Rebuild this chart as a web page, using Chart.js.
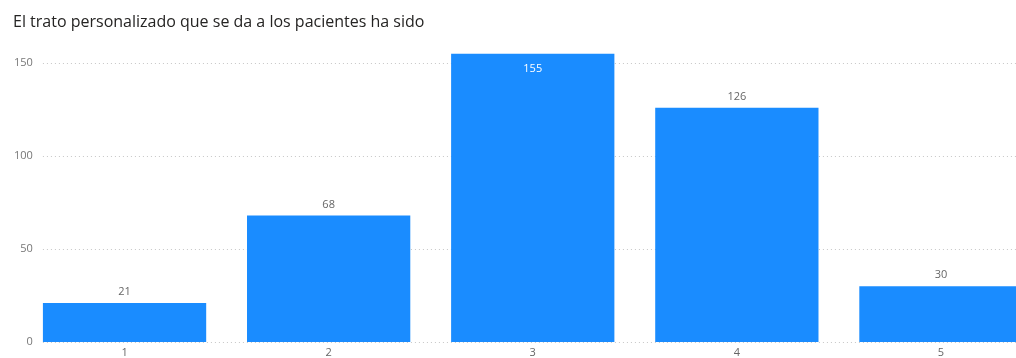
<!DOCTYPE html>
<html lang="es">
<head>
  <meta charset="UTF-8">
  <title>Trato personalizado</title>
  <style>
    body {
      margin: 0;
      background: #fff;
      overflow: hidden;
    }
    .wrap {
      width: 1043px;
      height: 358px;
    }
  </style>
  <script src="https://cdn.jsdelivr.net/npm/chart.js"></script>
</head>
<body>
  <div class="wrap">
    <canvas id="ratingChart" width="1043" height="358"></canvas>
  </div>
  <script>
    const categories = ['1', '2', '3', '4', '5'];
    const counts = [21, 68, 155, 126, 30];
    const yTicks = [0, 50, 100, 150];

    const barColor = '#1a8cff';
    const labelFont = '11px "Open Sans", sans-serif';

    // dotted horizontal guides, starting at the left edge of the first bar,
    // plus the y tick labels (drawn here so they can sit past the axis box)
    const dottedGrid = {
      id: 'dottedGrid',
      beforeDatasetsDraw(chart) {
        const { ctx, chartArea, scales } = chart;
        const first = chart.getDatasetMeta(0).data[0];
        const left = first.x - first.width / 2;
        ctx.save();
        ctx.strokeStyle = '#c6c6c6';
        ctx.lineWidth = 1;
        ctx.setLineDash([1, 3]);
        scales.y.ticks.forEach(t => {
          const py = Math.round(scales.y.getPixelForValue(t.value)) + 0.5;
          ctx.beginPath();
          ctx.moveTo(left, py);
          ctx.lineTo(chartArea.right, py);
          ctx.stroke();
        });
        ctx.setLineDash([]);
        ctx.font = labelFont;
        ctx.fillStyle = '#777777';
        ctx.textAlign = 'right';
        ctx.textBaseline = 'middle';
        scales.y.ticks.forEach(t => {
          ctx.fillText(String(t.value), left - 10, scales.y.getPixelForValue(t.value));
        });
        ctx.restore();
      }
    };

    // value labels: above the bar, or inside it when there is no room on top
    const valueLabels = {
      id: 'valueLabels',
      afterDatasetsDraw(chart) {
        const { ctx, chartArea } = chart;
        const meta = chart.getDatasetMeta(0);
        ctx.save();
        ctx.font = labelFont;
        ctx.textAlign = 'center';
        ctx.textBaseline = 'middle';
        meta.data.forEach((bar, i) => {
          const inside = bar.y - 20 < chartArea.top;
          ctx.fillStyle = inside ? '#ffffff' : '#666666';
          ctx.fillText(String(counts[i]), bar.x, inside ? bar.y + 15 : bar.y - 11);
        });
        ctx.restore();
      }
    };

    new Chart(document.getElementById('ratingChart'), {
      type: 'bar',
      data: {
        labels: categories,
        datasets: [{
          data: counts,
          backgroundColor: barColor,
          borderWidth: 0,
          barPercentage: 0.8,
          categoryPercentage: 1
        }]
      },
      options: {
        responsive: false,
        animation: false,
        layout: { padding: { left: 13, right: 0, top: 0, bottom: 0 } },
        plugins: {
          legend: { display: false },
          tooltip: { enabled: false },
          title: {
            display: true,
            text: 'El trato personalizado que se da a los pacientes ha sido',
            align: 'start',
            color: '#252423',
            font: { family: 'Open Sans', size: 16, weight: 'normal' },
            padding: { top: 13, bottom: 8 }
          }
        },
        scales: {
          x: {
            grid: { display: false, drawTicks: false },
            border: { display: false },
            ticks: {
              color: '#666666',
              font: { family: 'Open Sans', size: 11 },
              padding: 4,
              maxRotation: 0,
              autoSkip: false
            },
            afterFit(axis) { axis.height = 16; }
          },
          y: {
            min: 0,
            max: 162.3,
            grid: { display: false, drawTicks: false },
            border: { display: false },
            ticks: { display: false },
            afterBuildTicks(axis) {
              axis.ticks = yTicks.map(v => ({ value: v }));
            },
            afterFit(axis) { axis.width = 9.5; }
          }
        }
      },
      plugins: [dottedGrid, valueLabels]
    });
  </script>
</body>
</html>
